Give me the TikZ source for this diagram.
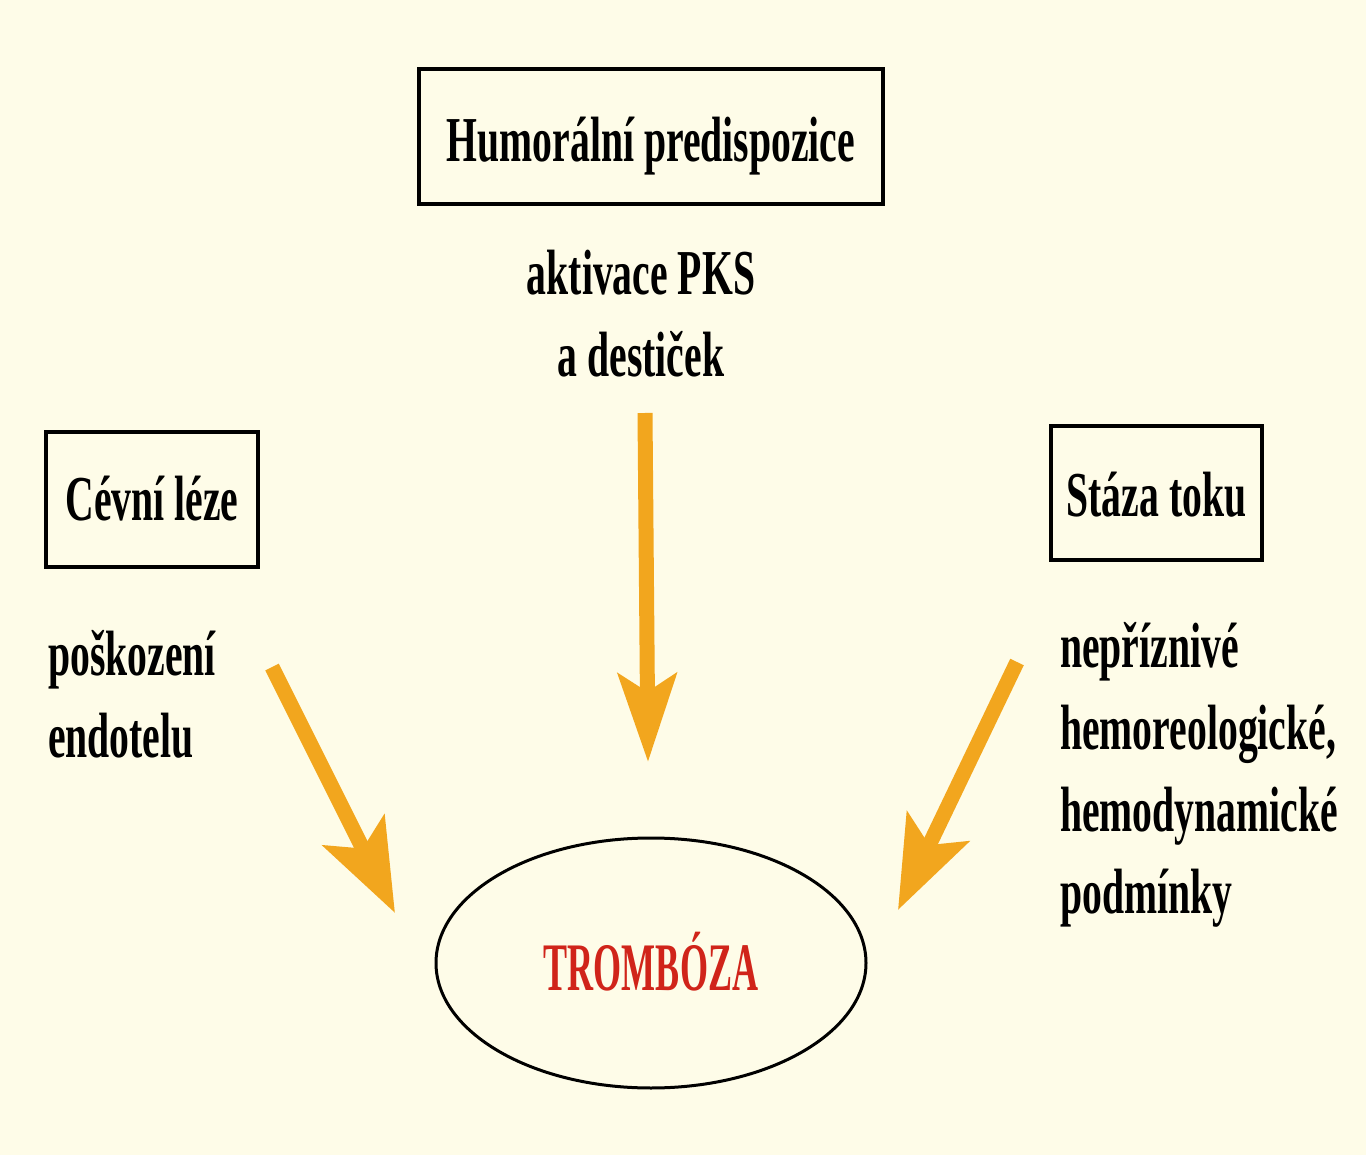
\documentclass[tikz,border=0pt]{standalone}
\usepackage{fontspec}
\setmainfont[FakeStretch=0.62]{Liberation Serif}
\newfontfamily\trombfont[FakeStretch=0.53]{Liberation Serif}
\usetikzlibrary{arrows.meta,shapes.geometric}
\definecolor{bgcream}{HTML}{FEFCE8}
\definecolor{arrorange}{HTML}{F2A61E}
\definecolor{tred}{HTML}{D0241A}
\tikzset{
  txtbox/.style={draw=black, line width=3.2pt, rectangle, inner sep=0pt, text depth=0pt,
    font={\fontsize{64}{82}\selectfont\bfseries}},
  lbl/.style={inner sep=0pt, font={\fontsize{64}{82}\selectfont\bfseries}},
  bigarrow/.style={draw=arrorange, line width=15pt,
    -{Stealth[length=88pt,width=58pt,inset=18pt,fill=arrorange]}},
  diagarrow/.style={bigarrow,
    -{Stealth[length=92pt,width=68pt,inset=20pt,fill=arrorange]}},
}
\begin{document}
\begin{tikzpicture}[x=1pt,y=-1pt]
\fill[bgcream] (0,0) rectangle (1366,1155);
\useasboundingbox (0,0) rectangle (1366,1155);

% boxes
\node[txtbox, text height=51pt, minimum width=464pt, minimum height=135pt] (humoral) at (651,136.5) {Humorální predispozice};
\node[txtbox, text height=42pt, minimum width=212pt, minimum height=135pt] (cevni) at (152,499.5) {Cévní léze};
\node[txtbox, text height=46pt, minimum width=211pt, minimum height=134pt] (staza) at (1156.5,493) {Stáza toku};

% labels (base anchor = baseline of the last line)
\node[lbl, align=center, anchor=base] (aktiv) at (641,377) {aktivace PKS\\a destiček};
\node[lbl, align=left, anchor=base west] (posk) at (48,757) {poškození\\endotelu};
\node[lbl, align=left, anchor=base west] (nepr) at (1060,913) {nepříznivé\\hemoreologické,\\hemodynamické\\podmínky};

% ellipse
\node[ellipse, draw=black, line width=3pt, minimum width=430pt, minimum height=250pt, inner sep=0pt,
  text=tred, text height=54pt, text depth=0pt,
  font={\trombfont\fontsize{68}{70}\selectfont\bfseries}] (tromb) at (651,963) {TROMBÓZA};

% arrow ends
\coordinate (mS) at (645,413);
\coordinate (mE) at (648,762);
\coordinate (lS) at (272,667);
\coordinate (lE) at (395,913);
\coordinate (rS) at (1017,662);
\coordinate (rE) at (898,910);

\draw[bigarrow] (mS) -- (mE);
\draw[diagarrow] (lS) -- (lE);
\draw[diagarrow] (rS) -- (rE);
\end{tikzpicture}
\end{document}
